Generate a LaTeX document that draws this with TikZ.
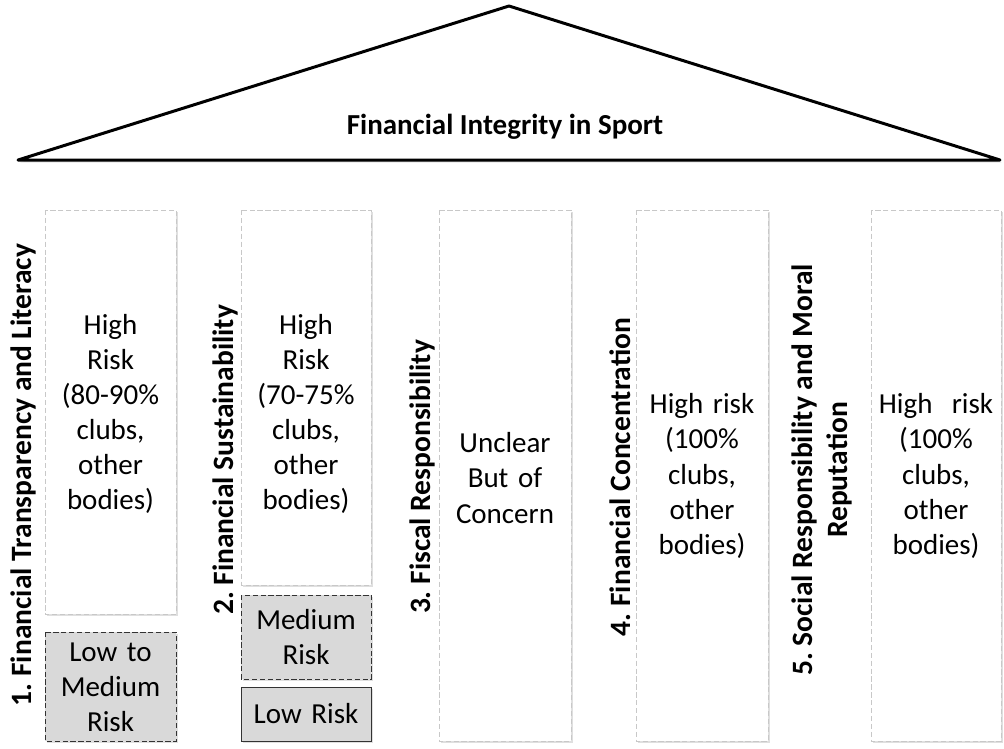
\documentclass[tikz,border=0pt]{standalone}
\usepackage{fontspec}
\setmainfont{Carlito}
\usetikzlibrary{shadows}
\definecolor{relleno}{RGB}{217,217,217}
\definecolor{borde}{RGB}{200,200,200}
\newcommand{\textopilar}{\fontsize{16.5}{20}\selectfont}
\newcommand{\textoeje}{\fontsize{16.8}{20}\selectfont\bfseries}
\frenchspacing
\tikzset{
  sombra/.style={drop shadow={shadow xshift=1pt, shadow yshift=-1.2pt, opacity=0.25, fill=gray}},
  pilar/.style={draw=borde, dash pattern=on 3pt off 1.5pt, fill=white, sombra},
  riesgo/.style={draw=black!80, dash pattern=on 3pt off 1.5pt, fill=relleno, sombra},
  bajo/.style={draw=black!80, fill=relleno, sombra},
  cifra/.style={align=center, text width=2.5cm, font=\textopilar},
  eje/.style={rotate=90, align=center, font=\textoeje}
}
\begin{document}
\begin{tikzpicture}[x=0.02cm, y=-0.02cm]
        \useasboundingbox (0,0) rectangle (1004,748);
        % techo
        \draw[line width=1.7pt, line join=round, drop shadow={shadow xshift=1pt, shadow yshift=-1.5pt, opacity=0.2, fill=gray}, fill=white]
          (18,160) -- (509,6) -- (1000,160) -- cycle;
        \node[font=\fontsize{16.5}{20}\selectfont\bfseries] (titulo) at (505,127) {Financial Integrity in Sport};
        % pilares
        \draw[pilar] (45,210) rectangle (176,614);
        \draw[riesgo] (45,632) rectangle (176,741);
        \draw[pilar] (241,210) rectangle (371,585);
        \draw[riesgo] (241,595) rectangle (371,679);
        \draw[bajo] (241,687) rectangle (371,741);
        \draw[pilar] (439,210) rectangle (571,741);
        \draw[pilar] (636,210) rectangle (768,741);
        \draw[pilar] (871,210) rectangle (1001,741);
        % textos de riesgo
        \node[cifra] (p1) at (110.5,414) {High\\Risk\\(80-90\%\\clubs,\\other\\bodies)};
        \node[cifra] (p1b) at (110.5,687) {Low to\\Medium\\Risk};
        \node[cifra] (p2) at (306,414) {High\\Risk\\(70-75\%\\clubs,\\other\\bodies)};
        \node[cifra] (p2b) at (306,637) {Medium\\Risk};
        \node[cifra] (p2c) at (306,714) {Low Risk};
        \node[cifra] (p3) at (505,478) {Unclear\\But of\\Concern};
        \node[cifra] (p4) at (702,476) {High risk\\(100\%\\clubs,\\other\\bodies)};
        \node[cifra] (p5) at (936,476) {High\ \ risk\\(100\%\\clubs,\\other\\bodies)};
        % ejes
        \node[eje] (e1) at (23,475) {1. Financial Transparency and Literacy};
        \node[eje] (e2) at (225,460) {2. Financial Sustainability};
        \node[eje] (e3) at (422,477) {3. Fiscal Responsibility};
        \node[eje] (e4) at (620,477) {4. Financial Concentration};
        \node[eje] (e5) at (822,470) {5. Social Responsibility and Moral\\Reputation};
      \end{tikzpicture}
\end{document}
